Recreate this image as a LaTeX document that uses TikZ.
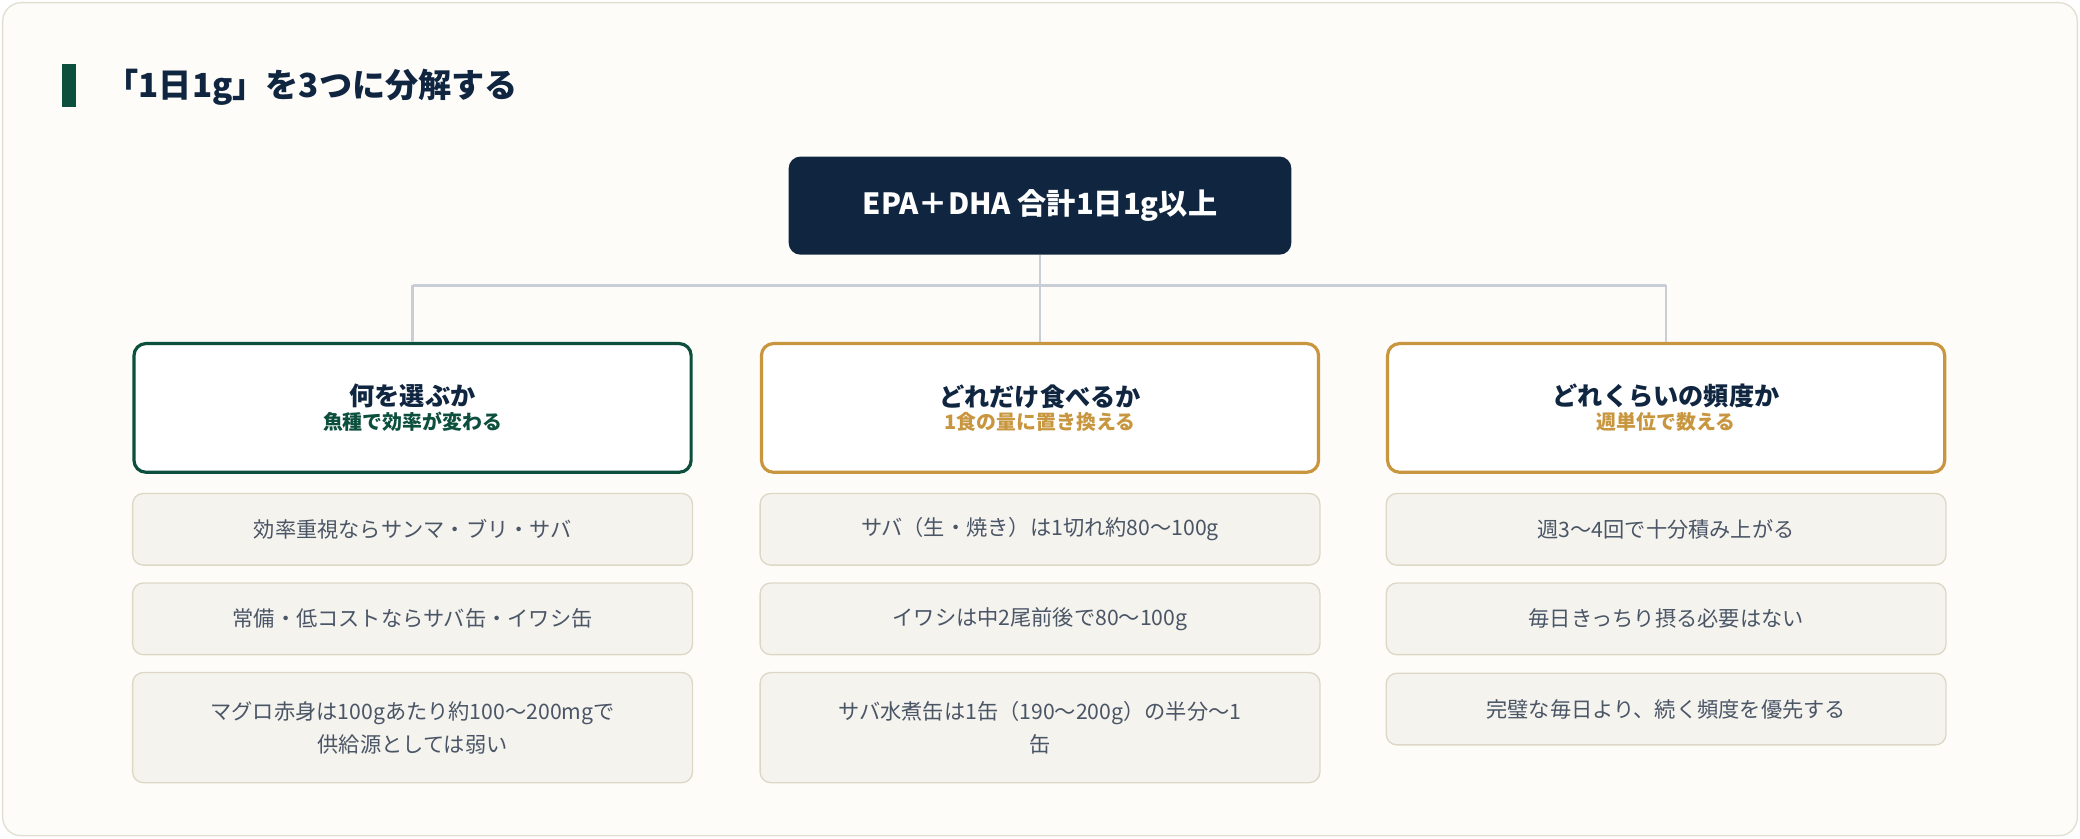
\documentclass[tikz,border=0pt]{standalone}
\usepackage{fontspec}
\setmainfont{Noto Sans CJK JP}
\usetikzlibrary{positioning}
\definecolor{navy}{HTML}{0F2540}
\definecolor{deepgreen}{HTML}{0B4F3C}
\definecolor{gold}{HTML}{C8963E}
\definecolor{linegray}{HTML}{C9CDD5}
\definecolor{itemfill}{HTML}{F4F3EE}
\definecolor{itemline}{HTML}{DDD8C6}
\definecolor{itemtext}{HTML}{4A5566}
\definecolor{pagefill}{HTML}{FDFCF9}
\definecolor{pageline}{HTML}{E2DFD2}

\tikzset{
  head/.style={draw=#1, line width=2.4pt, rounded corners=9pt, fill=white,
    minimum width=420pt, minimum height=97pt, align=center},
  item/.style={draw=itemline, line width=1pt, rounded corners=8pt, fill=itemfill,
    minimum width=422pt, align=center, text=itemtext, font=\fontsize{16}{25}\selectfont},
  link/.style={draw=linegray, line width=2pt},
}

\begin{document}
\begin{tikzpicture}[x=1pt,y=-1pt]
    \useasboundingbox (0,0) rectangle (1568,632);
    % page
    \draw [pageline, fill=pagefill, line width=1pt, rounded corners=14pt] (2,2) rectangle (1566,630);
    \fill [deepgreen] (47,48) rectangle (57,81);
    \node (title) [anchor=west, text=navy, font=\bfseries\fontsize{25}{30}\selectfont] at (76,66) {「1日1g」を3つに分解する};

    % top node
    \node (top) [fill=navy, rounded corners=9pt, minimum width=379pt, minimum height=74pt,
      text=white, font=\bfseries\fontsize{22}{26}\selectfont] at (784,155) {EPA＋DHA 合計1日1g以上};

    % headers
    \node (hA) [head=deepgreen] at (311,307.5) {{\bfseries\fontsize{19}{24}\selectfont\color{navy}何を選ぶか}\\[2pt]
      {\bfseries\fontsize{15}{20}\selectfont\color{deepgreen}魚種で効率が変わる}};
    \node (hB) [head=gold] at (784,307.5) {{\bfseries\fontsize{19}{24}\selectfont\color{navy}どれだけ食べるか}\\[2pt]
      {\bfseries\fontsize{15}{20}\selectfont\color{gold}1食の量に置き換える}};
    \node (hC) [head=gold] at (1256,307.5) {{\bfseries\fontsize{19}{24}\selectfont\color{navy}どれくらいの頻度か}\\[2pt]
      {\bfseries\fontsize{15}{20}\selectfont\color{gold}週単位で数える}};

    % connectors
    \coordinate (jL) at (311,215);
    \coordinate (jR) at (1256,215);
    \draw [link] (jL) -- (jR);
    \draw [link] (top.south) -- (top.south|-jL);
    \draw [link] (jL) -- (hA.north);
    \draw [link] (top.south|-jL) -- (hB.north);
    \draw [link] (jR) -- (hC.north);

    % items
    \node (a1) [item, minimum height=54pt] at (311,399) {効率重視ならサンマ・ブリ・サバ};
    \node (a2) [item, minimum height=54pt] at (311,466.5) {常備・低コストならサバ缶・イワシ缶};
    \node (a3) [item, minimum height=83pt] at (311,548.5) {マグロ赤身は100gあたり約100〜200mgで\\供給源としては弱い};
    \node (b1) [item, minimum height=54pt] at (784,399) {サバ（生・焼き）は1切れ約80〜100g};
    \node (b2) [item, minimum height=54pt] at (784,466.5) {イワシは中2尾前後で80〜100g};
    \node (b3) [item, minimum height=83pt] at (784,548.5) {サバ水煮缶は1缶（190〜200g）の半分〜1\\缶};
    \node (c1) [item, minimum height=54pt] at (1256,399) {週3〜4回で十分積み上がる};
    \node (c2) [item, minimum height=54pt] at (1256,466.5) {毎日きっちり摂る必要はない};
    \node (c3) [item, minimum height=54pt] at (1256,534.5) {完璧な毎日より、続く頻度を優先する};
\end{tikzpicture}
\end{document}
